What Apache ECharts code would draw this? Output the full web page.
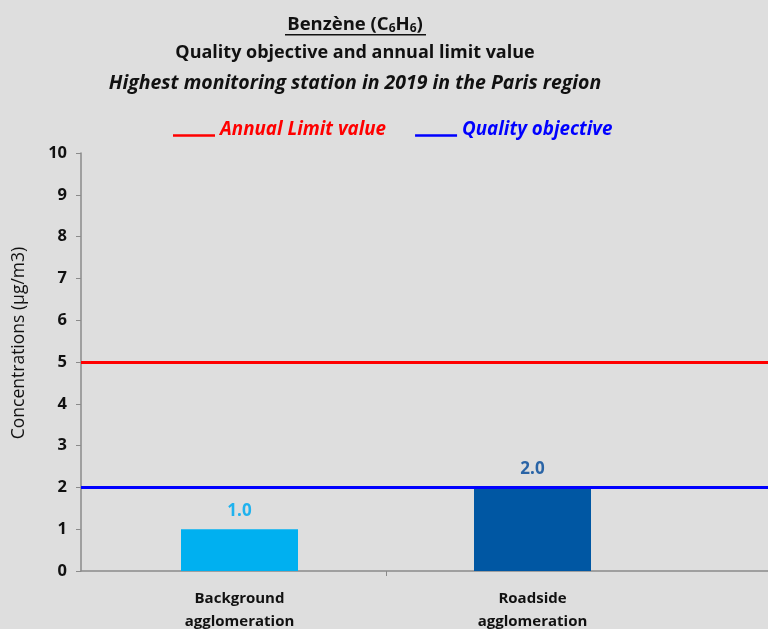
<!DOCTYPE html>
<html><head><meta charset="utf-8">
<script src="https://cdn.jsdelivr.net/npm/echarts@6/dist/echarts.min.js"></script>
<style>html,body{margin:0;padding:0;background:#dedede}#c{width:768px;height:629px}</style>
</head><body><div id="c"></div>
<script>
const categories = ['Background\nagglomeration', 'Roadside\nagglomeration'];
const values = [1.0, 2.0];
const barColors = ['#00b0f0', '#0057a3'];
const labelColors = ['#1fb2ee', '#2a64a6'];
const limitValue = 5;
const qualityObjective = 2;
const yTicks = [0, 1, 2, 3, 4, 5, 6, 7, 8, 9, 10];

const chart = echarts.init(document.getElementById('c'));
const FONT = 'Open Sans';
const ICON = 'path://M0,0 L1,0 L1,0.01 Z M0,12 L42,12 L42,14.5 L0,14.5 Z';
chart.setOption({
  backgroundColor: '#dedede',
  animation: false,
  title: [{
    text: '{t|Benzène (C}{s|6}{t|H}{s|6}{t|)}',
    left: 350, top: 10, textAlign: 'center',
    textStyle: { rich: {
      t: { fontFamily: FONT, fontWeight: 'bold', fontSize: 18.5, color: '#111' },
      s: { fontFamily: FONT, fontWeight: 'bold', fontSize: 12, color: '#111', padding: [8, 0, 0, 0] }
    } }
  }, {
    text: 'Quality objective and annual limit value',
    left: 350, top: 39, textAlign: 'center',
    textStyle: { fontFamily: FONT, fontWeight: 'bold', fontSize: 18, color: '#111' }
  }, {
    text: 'Highest monitoring station in 2019 in the Paris region',
    left: 350, top: 68, textAlign: 'center',
    textStyle: { fontFamily: FONT, fontWeight: 'bold', fontStyle: 'italic', fontSize: 19.5, color: '#111' }
  }],
  graphic: [{
    type: 'rect', shape: { x: 285, y: 34, width: 141, height: 1.5 }, style: { fill: '#111' }
  }],
  legend: {
    top: 115, left: 168, itemGap: 29, itemWidth: 42, itemHeight: 15,
    data: [
      { name: 'Annual Limit value', icon: ICON, textStyle: { color: '#ff0000' } },
      { name: 'Quality objective', icon: ICON, textStyle: { color: '#0000ff' } }
    ],
    textStyle: { fontFamily: FONT, fontWeight: 'bold', fontStyle: 'italic', fontSize: 18.8 },
    selectedMode: false
  },
  grid: [
    { left: 81, right: 0, top: 153, bottom: 58, outerBoundsMode: 'none', containLabel: false },
    { left: 93, width: 586, top: 153, bottom: 58, outerBoundsMode: 'none', containLabel: false }
  ],
  xAxis: [{
    gridIndex: 0, type: 'category', data: [''],
    axisLine: { lineStyle: { color: '#8a8a8a', width: 1.5 } },
    axisTick: { show: false }, axisLabel: { show: false }
  }, {
    gridIndex: 1, type: 'category', data: categories,
    axisLine: { show: false },
    axisTick: { show: false },
    axisLabel: { margin: 16, fontFamily: FONT, fontWeight: 'bold', fontSize: 15, color: '#111', lineHeight: 23 }
  }, {
    gridIndex: 1, type: 'value', min: 0, max: categories.length, position: 'bottom',
    axisLine: { show: false }, axisLabel: { show: false }, splitLine: { show: false },
    axisTick: { show: true, length: 5, customValues: [1], lineStyle: { color: '#8a8a8a' } }
  }],
  yAxis: [{
    gridIndex: 0, type: 'value', min: 0, max: 10, interval: 1,
    name: 'Concentrations (µg/m3)', nameLocation: 'middle', nameGap: 53,
    nameTextStyle: { fontFamily: FONT, fontSize: 17.5, color: '#111', padding: [0, 0, 0, 38] },
    axisLine: { show: true, lineStyle: { color: '#8a8a8a', width: 1.5 } },
    axisTick: { show: true, length: 5, lineStyle: { color: '#8a8a8a' } },
    splitLine: { show: false },
    axisLabel: { margin: 14, fontFamily: FONT, fontWeight: 'bold', fontSize: 16.5, color: '#111',
      formatter: v => yTicks.includes(v) ? String(v) : '' }
  }, {
    gridIndex: 1, type: 'value', min: 0, max: 10, interval: 1, show: false
  }],
  series: [{
    type: 'bar', xAxisIndex: 1, yAxisIndex: 1, barWidth: 117,
    data: values.map((v, i) => ({ value: v, itemStyle: { color: barColors[i] },
      label: { color: labelColors[i] } })),
    label: { show: true, position: 'top', distance: 10, formatter: p => p.value.toFixed(1),
      fontFamily: FONT, fontWeight: 'bold', fontSize: 17 },
    z: 2
  }, {
    name: 'Annual Limit value', type: 'line', xAxisIndex: 0, yAxisIndex: 0, data: [],
    color: '#ff0000',
    markLine: { symbol: 'none', silent: true, label: { show: false },
      lineStyle: { color: '#ff0000', width: 3, type: 'solid' },
      data: [{ yAxis: limitValue }] },
    z: 3
  }, {
    name: 'Quality objective', type: 'line', xAxisIndex: 0, yAxisIndex: 0, data: [],
    color: '#0000ff',
    markLine: { symbol: 'none', silent: true, label: { show: false },
      lineStyle: { color: '#0000ff', width: 3, type: 'solid' },
      data: [{ yAxis: qualityObjective }] },
    z: 3
  }]
});
</script></body></html>
